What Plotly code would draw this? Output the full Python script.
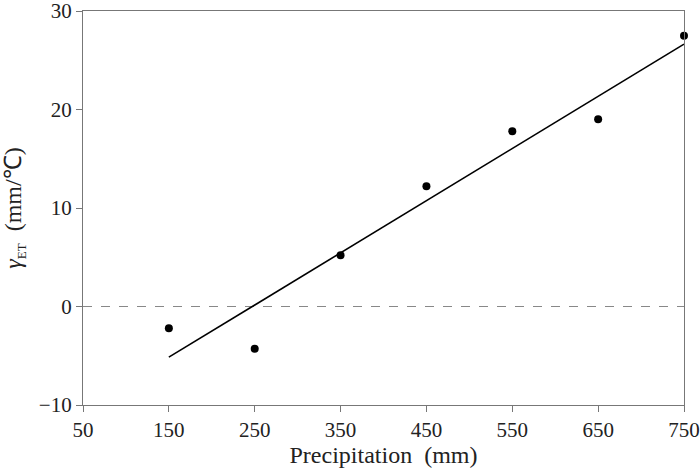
import numpy as np
import plotly.graph_objects as go

precip = [150, 250, 350, 450, 550, 650, 750]
gamma_et = [-2.2, -4.3, 5.2, 12.2, 17.8, 19.0, 27.5]
x_ticks = [50, 150, 250, 350, 450, 550, 650, 750]
y_ticks = [-10, 0, 10, 20, 30]

slope, intercept = np.polyfit(precip, gamma_et, 1)
fit_x = [precip[0], precip[-1]]
fit_y = [slope * v + intercept for v in fit_x]

font = "Liberation Serif, Times New Roman, serif"
fig = go.Figure()
fig.add_trace(go.Scatter(x=[50, 750], y=[0, 0], mode="lines",
                         line=dict(color="#888888", width=1.2, dash="dash"),
                         hoverinfo="skip", showlegend=False))
fig.add_trace(go.Scatter(x=fit_x, y=fit_y, mode="lines",
                         line=dict(color="black", width=1.6), showlegend=False))
fig.add_trace(go.Scatter(x=precip, y=gamma_et, mode="markers",
                         marker=dict(color="black", size=8), showlegend=False,
                         cliponaxis=False))

axis_common = dict(showline=True, linecolor="#777777", linewidth=1.2, mirror=True,
                   ticks="outside", ticklen=6, tickcolor="#777777", tickwidth=1.2,
                   showgrid=False, zeroline=False, automargin=False,
                   ticklabeloverflow="allow",
                   tickfont=dict(family=font, size=21, color="#222222"))
fig.update_layout(
    width=700, height=470,
    margin=dict(l=83, r=16, t=11, b=65),
    plot_bgcolor="white", paper_bgcolor="white",
    xaxis=dict(range=[50, 750], tickvals=x_ticks,
               title=dict(text="Precipitation\u2002(mm)", font=dict(family=font, size=24, color="#222222"), standoff=0),
               **axis_common),
    yaxis=dict(range=[-10, 30], tickvals=y_ticks,
               ticktext=["\u221210", "0", "10", "20", "30"],
               title=dict(text="<i>\u03b3</i><sub><span style='font-size:13px'>ET</span></sub>\u2002(mm/\u2103)",
                          font=dict(family=font, size=24, color="#222222"), standoff=12),
               **axis_common),
)
fig.write_html("out.html", config={"displayModeBar": False},
               post_script="document.body.style.margin='0';document.body.style.padding='0';")
